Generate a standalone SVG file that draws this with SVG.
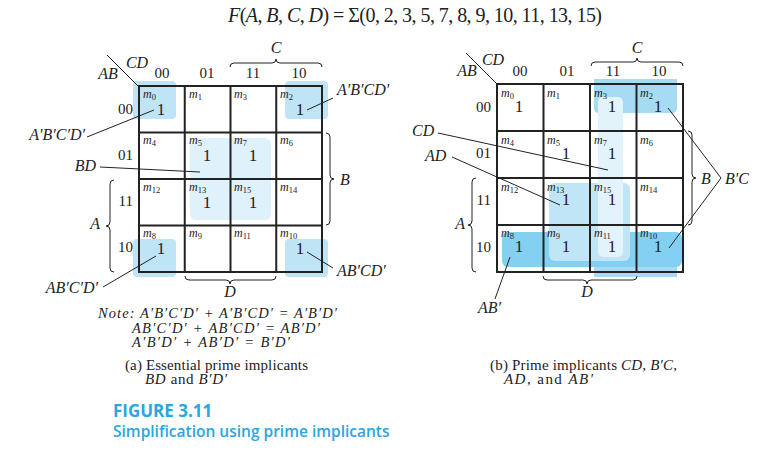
<svg xmlns="http://www.w3.org/2000/svg" width="759" height="452" viewBox="0 0 759 452">
<style>
text{font-family:"Liberation Serif","Times New Roman",serif;fill:#222}
.i{font-style:italic}
.t{font-size:20px}
.h{font-size:15px}
.lb{font-size:16px;font-style:italic}
.one{font-size:17px;text-anchor:middle}
.m{font-size:12px;font-style:italic}
.s{font-size:8.5px;font-style:normal}
.n{font-size:14.5px}
.cap{font-size:15px}
.fig{font-family:"Open Sans","Liberation Sans",sans-serif;fill:#2aa6e0}
.grid{fill:none;stroke:#222;stroke-width:2}
.ln{fill:none;stroke:#222;stroke-width:1}
.br{fill:none;stroke:#222;stroke-width:1}
</style>
<text class="t" x="228" y="22" textLength="374" lengthAdjust="spacing"><tspan class="i">F</tspan>(<tspan class="i">A</tspan>, <tspan class="i">B</tspan>, <tspan class="i">C</tspan>, <tspan class="i">D</tspan>) = Σ(0, 2, 3, 5, 7, 8, 9, 10, 11, 13, 15)</text>

<!-- LEFT MAP -->
<g id="mapA">
 <g id="mapA-highlights">
  <rect x="133" y="81" width="43" height="38" rx="4" fill="#bfe4f6"/>
  <rect x="285" y="81" width="43" height="38" rx="4" fill="#bfe4f6"/>
  <rect x="133" y="239" width="43" height="38" rx="4" fill="#bfe4f6"/>
  <rect x="285" y="239" width="43" height="38" rx="4" fill="#bfe4f6"/>
  <rect x="190" y="138" width="81" height="82" rx="6" fill="#dff1fb"/>
 </g>
 <g id="mapA-grid">
  <rect class="grid" x="139" y="86" width="183" height="186"/>
  <path class="grid" d="M184.75 86V272M230.5 86V272M276.25 86V272M139 132.5H322M139 179H322M139 225.5H322"/>
 </g>
 <g id="mapA-headers">
  <line class="ln" x1="107" y1="55" x2="139" y2="87"/>
  <text class="lb" x="108" y="79" text-anchor="middle">AB</text>
  <text class="lb" x="137" y="68" text-anchor="middle">CD</text>
  <text class="h" x="162" y="78" text-anchor="middle">00</text>
  <text class="h" x="207" y="78" text-anchor="middle">01</text>
  <text class="h" x="253" y="78" text-anchor="middle">11</text>
  <text class="h" x="299" y="78" text-anchor="middle">10</text>
  <text class="h" x="133" y="114" text-anchor="end">00</text>
  <text class="h" x="133" y="160" text-anchor="end">01</text>
  <text class="h" x="133" y="206" text-anchor="end">11</text>
  <text class="h" x="133" y="252" text-anchor="end">10</text>
 </g>
 <g id="mapA-cells">
  <text class="m" x="143" y="98">m<tspan class="s" dy="2">0</tspan></text>
  <text class="m" x="189" y="98">m<tspan class="s" dy="2">1</tspan></text>
  <text class="m" x="234" y="98">m<tspan class="s" dy="2">3</tspan></text>
  <text class="m" x="280" y="98">m<tspan class="s" dy="2">2</tspan></text>
  <text class="m" x="143" y="144">m<tspan class="s" dy="2">4</tspan></text>
  <text class="m" x="189" y="144">m<tspan class="s" dy="2">5</tspan></text>
  <text class="m" x="234" y="144">m<tspan class="s" dy="2">7</tspan></text>
  <text class="m" x="280" y="144">m<tspan class="s" dy="2">6</tspan></text>
  <text class="m" x="143" y="191">m<tspan class="s" dy="2">12</tspan></text>
  <text class="m" x="189" y="191">m<tspan class="s" dy="2">13</tspan></text>
  <text class="m" x="234" y="191">m<tspan class="s" dy="2">15</tspan></text>
  <text class="m" x="280" y="191">m<tspan class="s" dy="2">14</tspan></text>
  <text class="m" x="143" y="237">m<tspan class="s" dy="2">8</tspan></text>
  <text class="m" x="189" y="237">m<tspan class="s" dy="2">9</tspan></text>
  <text class="m" x="234" y="237">m<tspan class="s" dy="2">11</tspan></text>
  <text class="m" x="280" y="237">m<tspan class="s" dy="2">10</tspan></text>
  <text class="one" x="161" y="115">1</text>
  <text class="one" x="300" y="115">1</text>
  <text class="one" x="207" y="161">1</text>
  <text class="one" x="253" y="161">1</text>
  <text class="one" x="207" y="208">1</text>
  <text class="one" x="253" y="208">1</text>
  <text class="one" x="161" y="254">1</text>
  <text class="one" x="300" y="254">1</text>
 </g>
 <g id="mapA-braces">
  <path class="br" d="M230 67Q230 63 234 63L272 63Q276 63 276 59Q276 63 280 63L318 63Q322 63 322 67"/>
  <path class="br" d="M185 276Q185 280 189 280L226 280Q230 280 230 284Q230 280 234 280L272 280Q276 280 276 276"/>
  <path class="br" d="M326 133Q330 133 330 137L330 175Q330 179 334 179Q330 179 330 183L330 221Q330 225 326 225"/>
  <path class="br" d="M114 180Q110 180 110 184L110 222Q110 226 106 226Q110 226 110 230L110 268Q110 272 114 272"/>
  <text class="lb" x="276" y="53" text-anchor="middle">C</text>
  <text class="lb" x="230" y="297" text-anchor="middle">D</text>
  <text class="lb" x="340" y="185">B</text>
  <text class="lb" x="100" y="229" text-anchor="end">A</text>
 </g>
 <g id="mapA-labels">
  <path class="ln" d="M307 110L333 98M87 137L154 110M100 167L200 172M103 287L156 256M307 252L333 268"/>
  <text class="lb" x="337" y="95">A′B′CD′</text>
  <text class="lb" x="85" y="140" text-anchor="end">A′B′C′D′</text>
  <text class="lb" x="96" y="171" text-anchor="end">BD</text>
  <text class="lb" x="98" y="293" text-anchor="end">AB′C′D′</text>
  <text class="lb" x="337" y="276">AB′CD′</text>
 </g>
</g>

<g id="notes">
 <text class="n i" x="98" y="318" textLength="239" lengthAdjust="spacing">Note: A′B′C′D′ + A′B′CD′ = A′B′D′</text>
 <text class="n i" x="132" y="333" textLength="188" lengthAdjust="spacing">AB′C′D′ + AB′CD′ = AB′D′</text>
 <text class="n i" x="132" y="347" textLength="158" lengthAdjust="spacing">A′B′D′ + AB′D′ = B′D′</text>
 <text class="cap" x="125" y="370" textLength="183" lengthAdjust="spacing">(a) Essential prime implicants</text>
 <text class="cap" x="145" y="384" textLength="82" lengthAdjust="spacing"><tspan class="i">BD</tspan> and <tspan class="i">B′D′</tspan></text>
</g>

<!-- RIGHT MAP -->
<g id="mapB">
 <g id="mapB-highlights">
  <path d="M594 79H677V108Q677 113 672 113H599Q594 113 594 108Z" fill="#a6dbf4"/>
  <path d="M594 232H677V277H594Z" fill="#a6dbf4"/>
  <rect x="502" y="232" width="180" height="35" rx="6" fill="#83d0f2"/>
  <rect x="549" y="183" width="81" height="78" rx="6" fill="#c0e5f7"/>
  <rect x="598" y="97" width="25" height="160" rx="5" fill="#e3f3fb"/>
 </g>
 <g id="mapB-grid">
  <rect class="grid" x="497" y="84" width="186" height="188"/>
  <path class="grid" d="M543.5 84V272M590 84V272M636.5 84V272M497 131H683M497 178H683M497 225H683"/>
 </g>
 <g id="mapB-headers">
  <line class="ln" x1="466" y1="53" x2="497" y2="84"/>
  <text class="lb" x="467" y="76" text-anchor="middle">AB</text>
  <text class="lb" x="493" y="65" text-anchor="middle">CD</text>
  <text class="h" x="520" y="76" text-anchor="middle">00</text>
  <text class="h" x="567" y="76" text-anchor="middle">01</text>
  <text class="h" x="613" y="76" text-anchor="middle">11</text>
  <text class="h" x="659" y="76" text-anchor="middle">10</text>
  <text class="h" x="491" y="112" text-anchor="end">00</text>
  <text class="h" x="491" y="158" text-anchor="end">01</text>
  <text class="h" x="491" y="205" text-anchor="end">11</text>
  <text class="h" x="491" y="252" text-anchor="end">10</text>
 </g>
 <g id="mapB-cells">
  <text class="m" x="501" y="97">m<tspan class="s" dy="2">0</tspan></text>
  <text class="m" x="547" y="97">m<tspan class="s" dy="2">1</tspan></text>
  <text class="m" x="594" y="97">m<tspan class="s" dy="2">3</tspan></text>
  <text class="m" x="640" y="97">m<tspan class="s" dy="2">2</tspan></text>
  <text class="m" x="501" y="144">m<tspan class="s" dy="2">4</tspan></text>
  <text class="m" x="547" y="144">m<tspan class="s" dy="2">5</tspan></text>
  <text class="m" x="594" y="144">m<tspan class="s" dy="2">7</tspan></text>
  <text class="m" x="640" y="144">m<tspan class="s" dy="2">6</tspan></text>
  <text class="m" x="501" y="191">m<tspan class="s" dy="2">12</tspan></text>
  <text class="m" x="547" y="191">m<tspan class="s" dy="2">13</tspan></text>
  <text class="m" x="594" y="191">m<tspan class="s" dy="2">15</tspan></text>
  <text class="m" x="640" y="191">m<tspan class="s" dy="2">14</tspan></text>
  <text class="m" x="501" y="237">m<tspan class="s" dy="2">8</tspan></text>
  <text class="m" x="547" y="237">m<tspan class="s" dy="2">9</tspan></text>
  <text class="m" x="594" y="237">m<tspan class="s" dy="2">11</tspan></text>
  <text class="m" x="640" y="237">m<tspan class="s" dy="2">10</tspan></text>
  <text class="one" x="519" y="112">1</text>
  <text class="one" x="612" y="112">1</text>
  <text class="one" x="658" y="112">1</text>
  <text class="one" x="566" y="159">1</text>
  <text class="one" x="612" y="159">1</text>
  <text class="one" x="566" y="205">1</text>
  <text class="one" x="612" y="205">1</text>
  <text class="one" x="519" y="252">1</text>
  <text class="one" x="566" y="252">1</text>
  <text class="one" x="612" y="252">1</text>
  <text class="one" x="658" y="252">1</text>
 </g>
 <g id="mapB-braces">
  <path class="br" d="M591 66Q591 62 595 62L633 62Q637 62 637 58Q637 62 641 62L679 62Q683 62 683 66"/>
  <path class="br" d="M543 276Q543 280 547 280L583 280Q587 280 587 284Q587 280 591 280L633 280Q637 280 637 276"/>
  <path class="br" d="M688 131Q692 131 692 135L692 174Q692 178 696 178Q692 178 692 182L692 221Q692 225 688 225"/>
  <path class="br" d="M476 178Q472 178 472 182L472 221Q472 225 468 225Q472 225 472 229L472 268Q472 272 476 272"/>
  <text class="lb" x="637" y="53" text-anchor="middle">C</text>
  <text class="lb" x="587" y="297" text-anchor="middle">D</text>
  <text class="lb" x="701" y="184">B</text>
  <text class="lb" x="465" y="229" text-anchor="end">A</text>
 </g>
 <g id="mapB-labels">
  <path class="ln" d="M438 133L608 170M452 157L560 205M668 108L721 178L669 248M495 299L510 257"/>
  <text class="lb" x="412" y="136">CD</text>
  <text class="lb" x="425" y="161">AD</text>
  <text class="lb" x="725" y="184">B′C</text>
  <text class="lb" x="478" y="313">AB′</text>
 </g>
</g>

<g id="captionB">
 <text class="cap" x="490" y="370" textLength="187" lengthAdjust="spacing">(b) Prime implicants <tspan class="i">CD</tspan>, <tspan class="i">B′C</tspan>,</text>
 <text class="cap" x="504" y="384" textLength="89" lengthAdjust="spacing"><tspan class="i">AD</tspan>, and <tspan class="i">AB′</tspan></text>
</g>

<g id="figure">
 <text class="fig" x="113" y="417" font-size="17" font-weight="bold">FIGURE 3.11</text>
 <text class="fig" x="113" y="437" font-size="15.5" font-weight="600">Simplification using prime implicants</text>
</g>
</svg>
